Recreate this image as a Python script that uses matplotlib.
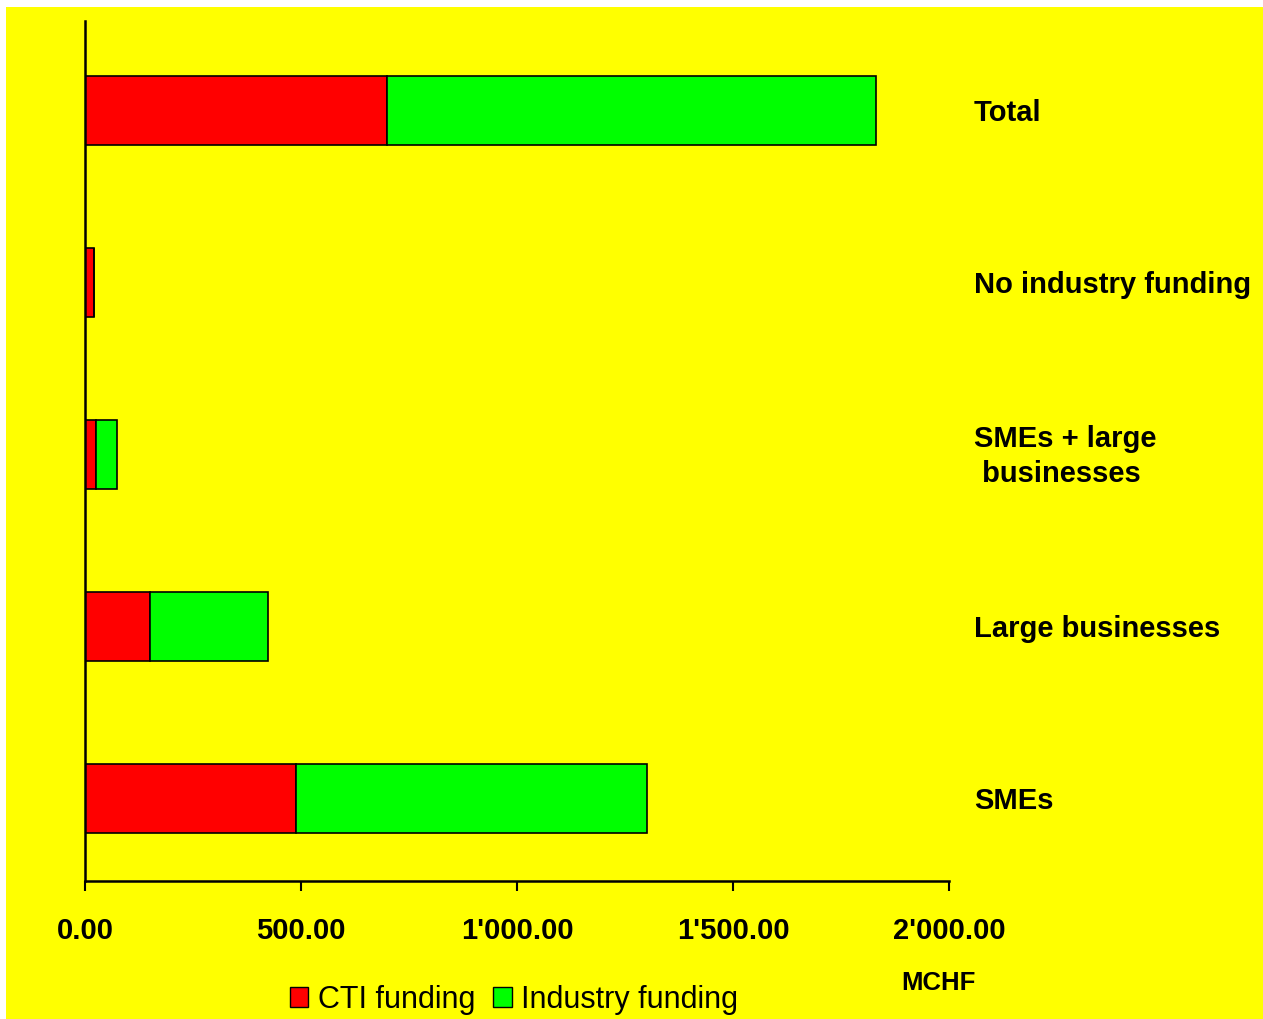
import numpy as np
import matplotlib.pyplot as plt
from matplotlib.patches import Rectangle, Patch

plt.rcParams['font.family'] = ['Liberation Sans', 'DejaVu Sans']

# funding by participant group, in MCHF (bottom to top)
groups = ["SMEs", "Large businesses", "SMEs + large\n businesses", "No industry funding", "Total"]
cti_funding = [488, 150, 25, 21, 699]
industry_funding = [813, 274, 49, 0, 1132]
xticks = [0, 500, 1000, 1500, 2000]
xticklabels = ["0.00", "500.00", "1'000.00", "1'500.00", "2'000.00"]

fig = plt.figure(figsize=(12.63, 10.19), dpi=100, facecolor='white')
# yellow panel behind everything
fig.patches.append(Rectangle((6 / 1263, 0), 1, 1 - 7 / 1019, transform=fig.transFigure,
                             facecolor='#ffff00', edgecolor='none', zorder=-10))

ax = fig.add_axes([85 / 1263, 1 - 881 / 1019, (949 - 85) / 1263, (881 - 21) / 1019])
ax.set_facecolor('none')

y = np.arange(len(groups))
ax.barh(y, cti_funding, height=0.4, color='#ff0000', edgecolor='black', linewidth=1.2)
ax.barh(y, industry_funding, left=cti_funding, height=0.4, color='#00ff00',
        edgecolor='black', linewidth=1.2)

ax.set_xlim(0, 2000)
ax.set_ylim(-0.48, 4.52)
ax.set_xticks(xticks)
ax.set_xticklabels(xticklabels, fontsize=21, fontweight='bold')
ax.set_yticks([])
ax.tick_params(axis='x', direction='out', length=7, width=1.5, pad=19)

for side in ['top', 'right']:
    ax.spines[side].set_visible(False)
for side in ['left', 'bottom']:
    ax.spines[side].set_linewidth(1.8)

for yi, name in zip(y, groups):
    ax.annotate(name, (2058, yi), xytext=(0, -1.5), textcoords='offset points',
                fontsize=21, fontweight='bold', ha='left', va='center',
                annotation_clip=False, linespacing=1.33)

fig.text(938 / 1263, 1 - 983 / 1019, "MCHF", fontsize=18.5, fontweight='bold',
         ha='center', va='center')

handles = [Patch(facecolor='#ff0000', edgecolor='black', label='CTI funding'),
           Patch(facecolor='#00ff00', edgecolor='black', label='Industry funding')]
fig.legend(handles=handles, loc='center', bbox_to_anchor=(514 / 1263, 1 - 1000 / 1019),
           ncol=2, frameon=False, fontsize=22, handlelength=0.62, handleheight=0.62,
           handletextpad=0.3, columnspacing=0.6, borderpad=0)

fig.savefig("out.png", dpi=100, facecolor=fig.get_facecolor())
